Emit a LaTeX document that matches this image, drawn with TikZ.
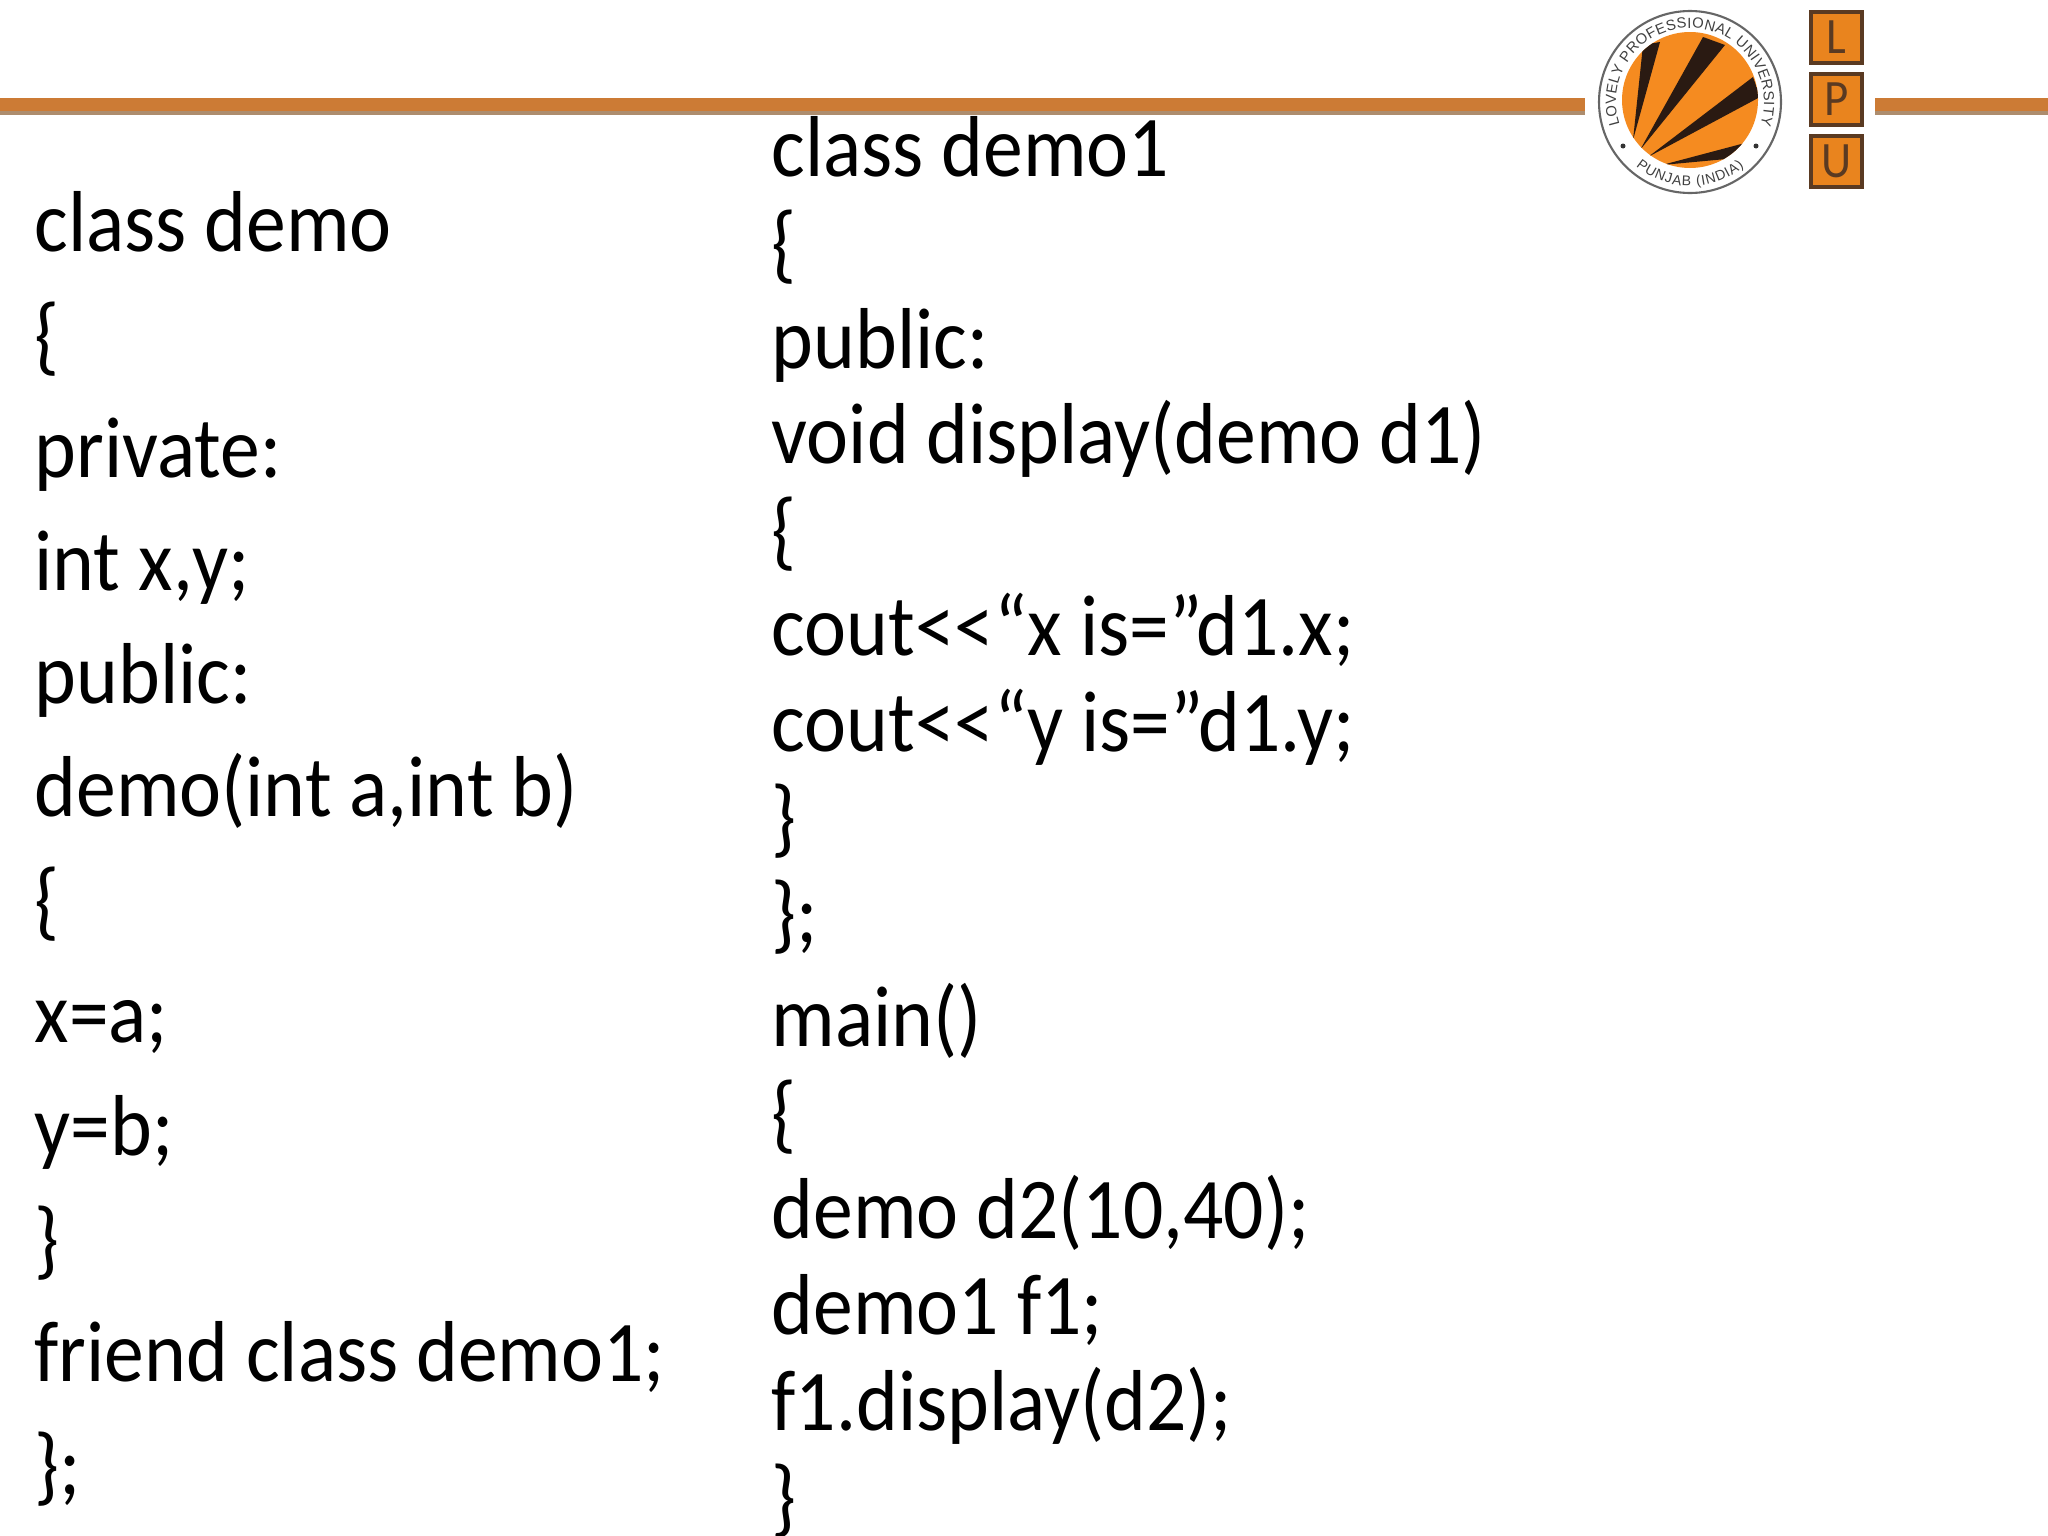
\documentclass[tikz,border=0pt]{standalone}
\usepackage{fontspec}
\setmainfont{Carlito}[FakeStretch=0.92]
\newfontfamily\sealfont{Liberation Sans}
\usetikzlibrary{decorations.text}
\definecolor{barorange}{HTML}{CC7B35}
\definecolor{bargray}{HTML}{AD8D6E}
\definecolor{sealorange}{HTML}{F58B20}
\definecolor{sealdark}{HTML}{2A1A12}
\definecolor{boxedge}{HTML}{5A3A22}
\tikzset{
  codeline/.style={anchor=base west,inner sep=0,font=\fontsize{24.6pt}{28pt}\selectfont,text=black},
  lpubox/.style={draw=boxedge,line width=1pt,fill=sealorange!95!black,minimum size=0.51cm,inner sep=0,
    text=boxedge,font=\fontsize{14.5pt}{16pt}\selectfont},
  sealtext/.style={decorate,decoration={text along path,text color=black!75,text align=fit to path,
    text={#1}}}
}
\begin{document}
\begin{tikzpicture}[x=0.01cm,y=0.01cm]
  \useasboundingbox (0,0) rectangle (2048,-1536);
  % header bar
  \fill[bargray] (0,-110) rectangle (1585,-115);
  \fill[barorange] (0,-98) rectangle (1585,-111);
  \fill[bargray] (1875,-110) rectangle (2048,-115);
  \fill[barorange] (1875,-98) rectangle (2048,-111);
  % seal
  \draw[black!60,line width=0.6pt] (1690,-102) circle (91);
  \fill[sealorange] (1690,-100) circle (68);
  \begin{scope}
    \clip (1690,-100) circle (68);
    \fill[sealdark] (1633,-140) -- (1643,-45) -- (1660,-42) -- cycle;
    \fill[sealdark] (1640,-150) -- (1703,-37) -- (1725,-45) -- cycle;
    \fill[sealdark] (1648,-157) -- (1753,-77) -- (1760,-97) -- cycle;
    \fill[sealdark] (1662,-165) -- (1745,-143) -- (1737,-158) -- cycle;
  \end{scope}
  \path[sealtext={|\sealfont\fontsize{4.2pt}{5pt}\selectfont|LOVELY PROFESSIONAL UNIVERSITY}]
    (1690,-102) ++(198:74) arc (198:-18:74);
  \path[sealtext={|\sealfont\fontsize{4pt}{5pt}\selectfont|PUNJAB (INDIA)}]
    (1690,-102) ++(-130:84) arc (-130:-50:84);
  \fill[black!80] (1623,-146) circle (2.5) (1756,-146) circle (2.5);
  % letter boxes
  \node[lpubox] (boxl) at (1836.5,-37.5) {L};
  \node[lpubox] (boxp) at (1836.5,-99.5) {P};
  \node[lpubox] (boxu) at (1836.5,-161.5) {U};
  % left column
  \node[codeline] (a1) at (34,-251) {class demo};
  \node[codeline] (a2) at (34,-364) {\{};
  \node[codeline] (a3) at (34,-477) {private:};
  \node[codeline] (a4) at (34,-590) {int x,y;};
  \node[codeline] (a5) at (34,-703) {public:};
  \node[codeline] (a6) at (34,-816) {demo(int a,int b)};
  \node[codeline] (a7) at (34,-929) {\{};
  \node[codeline] (a8) at (34,-1042) {x=a;};
  \node[codeline] (a9) at (34,-1155) {y=b;};
  \node[codeline] (a10) at (34,-1268) {\}};
  \node[codeline] (a11) at (34,-1381) {friend class demo1;};
  \node[codeline] (a12) at (34,-1494) {\};};
  % right column
  \node[codeline] (b1) at (771,-176) {class demo1};
  \node[codeline] (b2) at (771,-272) {\{};
  \node[codeline] (b3) at (771,-368) {public:};
  \node[codeline] (b4) at (771,-463) {void display(demo d1)};
  \node[codeline] (b5) at (771,-559) {\{};
  \node[codeline] (b6) at (771,-655) {cout<{}<“x is=”d1.x;};
  \node[codeline] (b7) at (771,-751) {cout<{}<“y is=”d1.y;};
  \node[codeline] (b8) at (771,-846) {\}};
  \node[codeline] (b9) at (771,-942) {\};};
  \node[codeline] (b10) at (771,-1046) {main()};
  \node[codeline] (b11) at (771,-1142) {\{};
  \node[codeline] (b12) at (771,-1238) {demo d2(10,40);};
  \node[codeline] (b13) at (771,-1334) {demo1 f1;};
  \node[codeline] (b14) at (771,-1430) {f1.display(d2);};
  \node[codeline] (b15) at (771,-1526) {\}};
\end{tikzpicture}
\end{document}
